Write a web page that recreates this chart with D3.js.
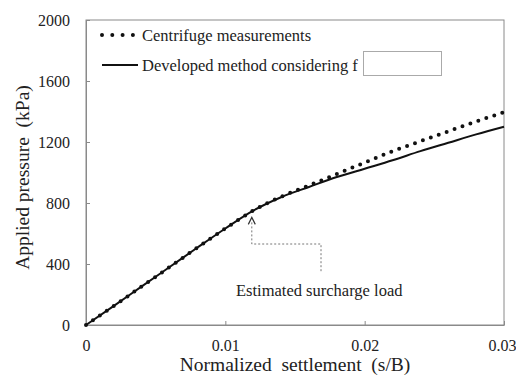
<!DOCTYPE html>
<html>
<head>
<meta charset="utf-8">
<script src="https://cdn.jsdelivr.net/npm/d3@7"></script>
<style>
  body { margin: 0; background: #fff; }
  svg text { font-family: "Liberation Serif", "Times New Roman", serif; fill: #222; }
</style>
</head>
<body>
<svg id="chart" width="516" height="376" font-family="Liberation Serif, Times New Roman, serif"></svg>
<script>
// Data
const settlement = [0, 0.002, 0.004, 0.006, 0.008, 0.010, 0.012, 0.014, 0.016, 0.018, 0.020, 0.022, 0.024, 0.026, 0.028, 0.030];
const centrifuge = [0, 125, 253, 380, 508, 633, 750, 841, 915, 990, 1065, 1140, 1205, 1270, 1335, 1395];
const developed  = [0, 125, 253, 380, 508, 633, 750, 838, 905, 970, 1025, 1080, 1140, 1195, 1250, 1300];
const xTicks = [0, 0.01, 0.02, 0.03];
const yTicks = [0, 400, 800, 1200, 1600, 2000];
const surcharge = { s: 0.0119, p: 745 };

const MARGIN = { top: 20, right: 12, bottom: 51, left: 86 };
const WIDTH = 516, HEIGHT = 376;
const INNER_W = WIDTH - MARGIN.left - MARGIN.right;
const INNER_H = HEIGHT - MARGIN.top - MARGIN.bottom;
const FONT = "Liberation Serif, Times New Roman, serif";

const svg = d3.select("#chart");
const g = svg.append("g").attr("transform", `translate(${MARGIN.left},${MARGIN.top})`);

const x = d3.scaleLinear().domain([0, 0.03]).range([0, INNER_W]);
const y = d3.scaleLinear().domain([0, 2000]).range([INNER_H, 0]);

// frame
g.append("rect")
  .attr("x", 0).attr("y", 0).attr("width", INNER_W).attr("height", INNER_H)
  .attr("fill", "none").attr("stroke", "#8a8a8a").attr("stroke-width", 1);

// axes
const xAxis = g.append("g").attr("transform", `translate(0,${INNER_H})`)
  .call(d3.axisBottom(x).tickValues(xTicks).tickSizeInner(-4).tickSizeOuter(0)
    .tickFormat(d => d === 0 ? "0" : d3.format(".2f")(d)));
const yAxis = g.append("g")
  .call(d3.axisLeft(y).tickValues(yTicks).tickSizeInner(-4).tickSizeOuter(0).tickFormat(d3.format("d")));

[xAxis, yAxis].forEach(a => {
  a.attr("font-family", FONT);
  a.select(".domain").attr("stroke", "#8a8a8a");
  a.selectAll(".tick line").attr("stroke", "#8a8a8a");
  a.selectAll(".tick text").attr("font-size", 16).attr("fill", "#222");
});
xAxis.selectAll(".tick text").attr("dy", "0").attr("y", 26);
// last label sits against the page edge, as in the original
xAxis.selectAll(".tick text").filter(d => d === 0.03).attr("text-anchor", "end").attr("x", 12);
yAxis.selectAll(".tick text").attr("x", -16);

// axis titles
svg.append("text")
  .attr("x", MARGIN.left + INNER_W / 2).attr("y", 371)
  .attr("text-anchor", "middle").attr("font-size", 19.5)
  .attr("xml:space", "preserve")
  .text("Normalized  settlement  (s/B)");
svg.append("text")
  .attr("transform", `translate(29,${MARGIN.top + INNER_H / 2 + 5}) rotate(-90)`)
  .attr("text-anchor", "middle").attr("font-size", 19.5)
  .attr("xml:space", "preserve")
  .text("Applied pressure  (kPa)");

// lines
const lineOf = vals => d3.line()
  .x((d, i) => x(settlement[i]))
  .y(d => y(d))
  .curve(d3.curveMonotoneX)(vals);

g.append("path")
  .attr("d", lineOf(developed))
  .attr("fill", "none").attr("stroke", "#111").attr("stroke-width", 2);

g.append("path")
  .attr("d", lineOf(centrifuge))
  .attr("fill", "none").attr("stroke", "#111").attr("stroke-width", 4)
  .attr("stroke-linecap", "round").attr("stroke-dasharray", "0 8.4");

// annotation
const ax = x(surcharge.s), ay = y(surcharge.p) + 6;
const annY = 224, annX = 235, annBottom = 252;
g.append("path")
  .attr("d", `M${ax},${ay + 5} V${annY} H${annX} V${annBottom}`)
  .attr("fill", "none").attr("stroke", "#777").attr("stroke-width", 1)
  .attr("stroke-dasharray", "2 2");
g.append("path")
  .attr("d", `M${ax - 3.5},${ay + 7} L${ax},${ay} L${ax + 3.5},${ay + 7}`)
  .attr("fill", "none").attr("stroke", "#333").attr("stroke-width", 1.2);
g.append("text")
  .attr("x", 150).attr("y", 276)
  .attr("font-size", 16.5)
  .text("Estimated surcharge load");

// legend
const legend = svg.append("g");
legend.append("line")
  .attr("x1", 102).attr("x2", 133).attr("y1", 35).attr("y2", 35)
  .attr("stroke", "#111").attr("stroke-width", 4)
  .attr("stroke-linecap", "round").attr("stroke-dasharray", "0 10.3");
legend.append("text")
  .attr("x", 142).attr("y", 41).attr("font-size", 16.5)
  .text("Centrifuge measurements");
legend.append("line")
  .attr("x1", 102).attr("x2", 138).attr("y1", 65).attr("y2", 65)
  .attr("stroke", "#111").attr("stroke-width", 2);
legend.append("text")
  .attr("x", 142).attr("y", 71).attr("font-size", 16.5)
  .text("Developed method considering f");
legend.append("rect")
  .attr("x", 363.5).attr("y", 51.5).attr("width", 78).attr("height", 24)
  .attr("fill", "#fff").attr("stroke", "#aaa").attr("stroke-width", 1);
</script>
</body>
</html>
